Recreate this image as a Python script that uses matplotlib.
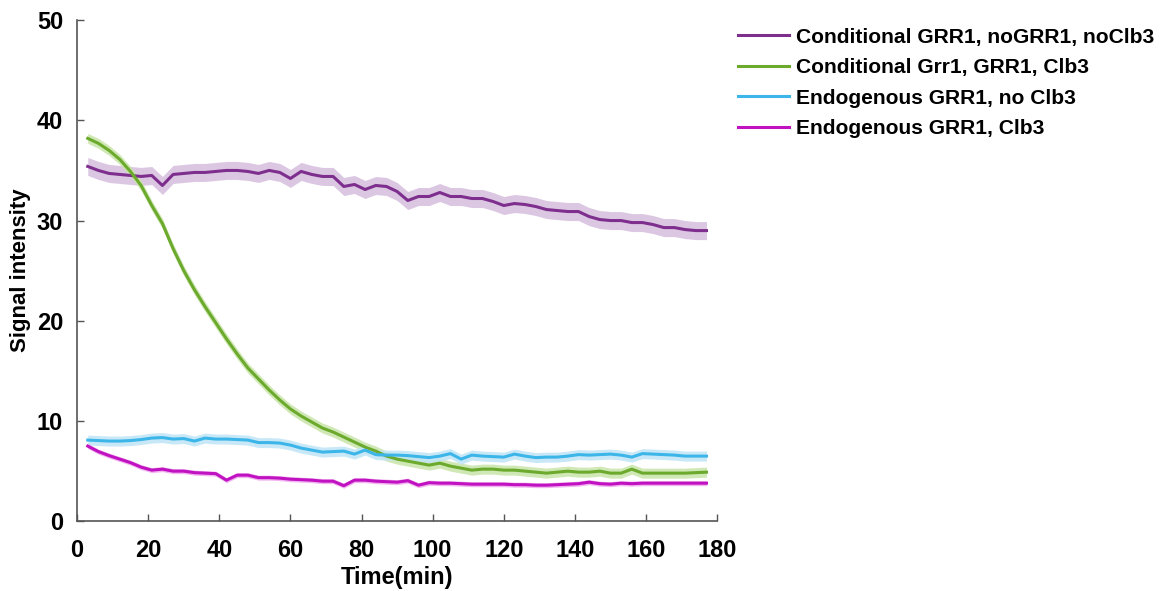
import numpy as np
import matplotlib
matplotlib.use("Agg")
import matplotlib.pyplot as plt

time_min = [3, 6, 9, 12, 15, 18, 21, 24, 27, 30, 33, 36, 39, 42, 45, 48, 51, 54, 57, 60,
            63, 66, 69, 72, 75, 78, 81, 84, 87, 90, 93, 96, 99, 102, 105, 108, 111, 114, 117, 120,
            123, 126, 129, 132, 135, 138, 141, 144, 147, 150, 153, 156, 159, 162, 165, 168, 171, 174, 177]

cond_nogrr1 = [35.4, 35.0, 34.7, 34.6, 34.5, 34.4, 34.5, 33.5, 34.6, 34.7, 34.8, 34.8, 34.9, 35.0, 35.0, 34.9, 34.7, 35.0, 34.8, 34.2,
               34.9, 34.6, 34.4, 34.4, 33.4, 33.6, 33.1, 33.5, 33.4, 32.9, 32.0, 32.4, 32.4, 32.8, 32.4, 32.4, 32.2, 32.2, 31.9, 31.5,
               31.7, 31.6, 31.4, 31.1, 31.0, 30.9, 30.9, 30.4, 30.1, 30.0, 30.0, 29.8, 29.8, 29.6, 29.3, 29.3, 29.1, 29.0, 29.0]
cond_grr1 = [38.2, 37.7, 37.0, 36.1, 34.9, 33.5, 31.5, 29.7, 27.2, 25.0, 23.1, 21.4, 19.8, 18.2, 16.7, 15.3, 14.2, 13.1, 12.1, 11.2,
             10.5, 9.9, 9.3, 8.9, 8.4, 7.9, 7.4, 7.0, 6.5, 6.2, 6.0, 5.8, 5.6, 5.8, 5.5, 5.3, 5.1, 5.2, 5.2, 5.1,
             5.1, 5.0, 4.9, 4.8, 4.9, 5.0, 4.9, 4.9, 5.0, 4.8, 4.8, 5.2, 4.8, 4.8, 4.8, 4.8, 4.8, 4.85, 4.9]
endo_noclb3 = [8.1, 8.05, 8.0, 8.0, 8.05, 8.15, 8.3, 8.35, 8.2, 8.25, 8.0, 8.3, 8.2, 8.2, 8.15, 8.1, 7.85, 7.85, 7.8, 7.6,
               7.3, 7.1, 6.9, 6.95, 7.0, 6.7, 7.1, 6.65, 6.6, 6.6, 6.55, 6.45, 6.35, 6.5, 6.75, 6.2, 6.6, 6.5, 6.45, 6.4,
               6.7, 6.5, 6.35, 6.4, 6.4, 6.5, 6.65, 6.6, 6.65, 6.7, 6.6, 6.4, 6.75, 6.7, 6.65, 6.6, 6.5, 6.5, 6.5]
endo_clb3 = [7.5, 6.95, 6.55, 6.2, 5.85, 5.4, 5.1, 5.2, 5.0, 5.0, 4.85, 4.8, 4.75, 4.1, 4.6, 4.6, 4.35, 4.35, 4.3, 4.2,
             4.15, 4.1, 4.0, 4.0, 3.55, 4.1, 4.1, 4.0, 3.95, 3.9, 4.05, 3.6, 3.85, 3.8, 3.8, 3.75, 3.7, 3.7, 3.7, 3.7,
             3.65, 3.65, 3.6, 3.6, 3.65, 3.7, 3.75, 3.9, 3.75, 3.7, 3.8, 3.75, 3.8, 3.8, 3.8, 3.8, 3.8, 3.8, 3.8]

series_labels = ["Conditional GRR1, noGRR1, noClb3", "Conditional Grr1, GRR1, Clb3",
                 "Endogenous GRR1, no Clb3", "Endogenous GRR1, Clb3"]
series_sem = [0.9, 0.5, 0.5, 0.25]

line_colors = ["#7E2F8E", "#6BAA2C", "#3CB6E9", "#C012C0"]
band_colors = ["#D6BEDF", "#C8E4A8", "#C0E5F6", "#F0A8F0"]

plt.rcParams['font.family'] = ['Liberation Sans', 'DejaVu Sans']
plt.rcParams['font.weight'] = 'bold'

fig = plt.figure(figsize=(11.68, 5.91), dpi=100)
ax = fig.add_axes([0.066, 0.118, 0.548, 0.848])

t = np.array(time_min)
all_series = [cond_nogrr1, cond_grr1, endo_noclb3, endo_clb3]
for vals, sem, bc in zip(all_series, series_sem, band_colors):
    v = np.array(vals)
    ax.fill_between(t, v - sem, v + sem, color=bc, alpha=0.85, linewidth=0)
for vals, lab, lc in zip(all_series, series_labels, line_colors):
    ax.plot(t, vals, color=lc, lw=2.2, label=lab)

ax.set_xlim(0, 180)
ax.set_ylim(0, 50)
ax.set_xticks(range(0, 181, 20))
ax.set_yticks(range(0, 51, 10))
for s in ['top', 'right']:
    ax.spines[s].set_visible(False)
for s in ['left', 'bottom']:
    ax.spines[s].set_color('#555555')
    ax.spines[s].set_linewidth(1.2)
ax.tick_params(direction='in', length=5, width=1.0, color='#555555', labelsize=17)
ax.tick_params(axis='x', pad=13)
ax.tick_params(axis='y', pad=10)
for lbl in ax.get_xticklabels() + ax.get_yticklabels():
    lbl.set_fontweight('bold')
ax.set_xlabel("Time(min)", fontsize=17, fontweight='bold', labelpad=3)
ax.set_ylabel("Signal intensity", fontsize=16, fontweight='bold', labelpad=4)

leg = fig.legend(loc='upper left', bbox_to_anchor=(0.616, 0.985), frameon=False,
                 prop={'size': 15.1, 'weight': 'bold'}, handlelength=2.4, labelspacing=0.55,
                 handletextpad=0.35)

fig.savefig("out.png", dpi=100)
